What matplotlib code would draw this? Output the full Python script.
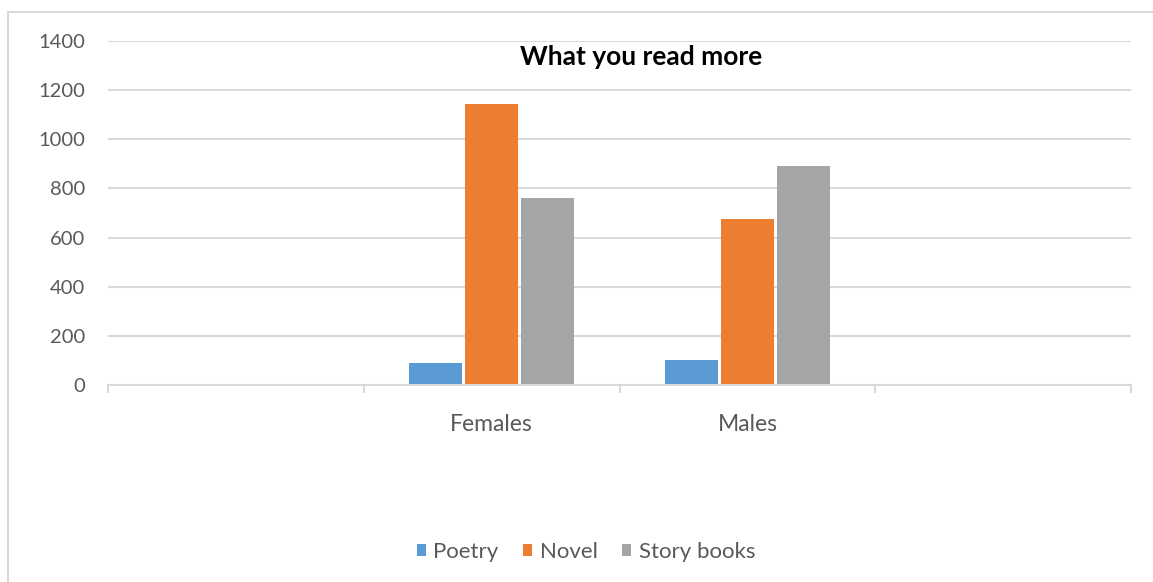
import numpy as np
import matplotlib
matplotlib.use("Agg")
import matplotlib.pyplot as plt
from matplotlib.patches import Rectangle

categories = ["", "Females", "Males", ""]
series_names = ["Poetry", "Novel", "Story books"]
poetry = [0, 88, 100, 0]
novel = [0, 1142, 676, 0]
story_books = [0, 760, 893, 0]
y_ticks = [0, 200, 400, 600, 800, 1000, 1200, 1400]

colors = ["#5b9bd5", "#ed7d31", "#a5a5a5"]
text_color = "#595959"
grid_color = "#d9d9d9"

plt.rcParams["font.family"] = ["Lato", "DejaVu Sans"]

fig = plt.figure(figsize=(11.53, 5.82), dpi=100)
ax = fig.add_axes([108 / 1153, 1 - 385 / 582, (1131 - 108) / 1153, (385 - 41) / 582])

# chart area border (only left and top visible in the reference)
fig.patches.append(Rectangle((8 / 1153, -0.1), 1.2, 1 - 12 / 582 + 0.1, transform=fig.transFigure,
                             fill=False, edgecolor=grid_color, linewidth=1.5))

x = np.arange(len(categories))
offset = 0.22
width = 0.207
handles = []
for i, (vals, name) in enumerate(zip([poetry, novel, story_books], series_names)):
    h = ax.bar(x + (i - 1) * offset, vals, width=width, color=colors[i], label=name, zorder=3)
    handles.append(h)

ax.set_xlim(-0.5, len(categories) - 0.5)
ax.set_ylim(0, 1400)
ax.set_yticks(y_ticks)
ax.set_yticklabels([str(v) for v in y_ticks], fontsize=14.5, color=text_color)
ax.yaxis.grid(True, color=grid_color, linewidth=1.5, zorder=0)
ax.tick_params(axis="y", length=0, pad=16.5)

ax.set_xticks(x)
ax.set_xticklabels(categories, fontsize=16.5, color=text_color)
ax.tick_params(axis="x", which="major", length=0, pad=21)
ax.set_xticks(np.arange(-0.5, len(categories), 1), minor=True)
ax.tick_params(axis="x", which="minor", length=6, width=1.5, color=grid_color, direction="out")

for side in ["top", "right", "left"]:
    ax.spines[side].set_visible(False)
ax.spines["bottom"].set_color(grid_color)
ax.spines["bottom"].set_linewidth(1.5)
ax.spines["bottom"].set_zorder(4)

fig.text(641 / 1153, 1 - 57 / 582, "What you read more", ha="center", va="center",
         fontsize=19, fontweight="bold", color="black")

leg = fig.legend(handles=handles, labels=series_names, loc="center", bbox_to_anchor=(586 / 1153, 1 - 552 / 582),
                 ncol=3, frameon=False, fontsize=16, handlelength=0.4, handleheight=0.4,
                 handletextpad=0.35, columnspacing=1.1)
for t in leg.get_texts():
    t.set_color(text_color)

fig.savefig("out.png", dpi=100)
